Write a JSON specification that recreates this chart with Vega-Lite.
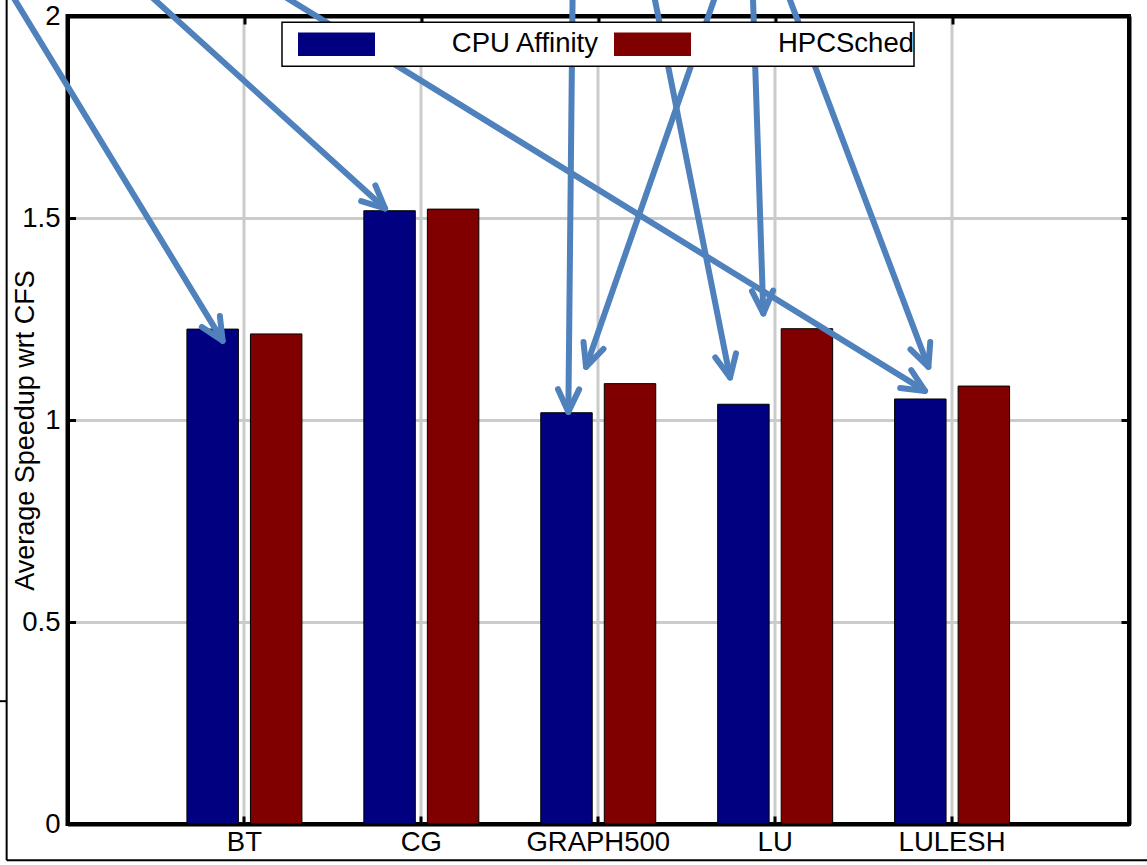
{
  "$schema": "https://vega.github.io/schema/vega-lite/v6.json",
  "width": 1061.5,
  "height": 808,
  "autosize": {"type": "none"},
  "padding": {"left": 67.5, "top": 16, "right": 18, "bottom": 41},
  "background": "white",
  "config": {
    "font": "Liberation Sans",
    "view": {"stroke": "black", "strokeWidth": 4},
    "axis": {
      "domainColor": "black",
      "domainWidth": 4,
      "tickColor": "black",
      "tickWidth": 3,
      "tickSize": -8,
      "labelColor": "black",
      "labelFontSize": 27.5,
      "labelFont": "Liberation Sans",
      "gridColor": "#cbcbcb",
      "gridWidth": 3,
      "gridOpacity": 1,
      "titleColor": "black",
      "titleFontWeight": "normal",
      "titleFont": "Liberation Sans"
    },
    "legend": {
      "orient": "none",
      "legendX": 214.5,
      "legendY": 6.3,
      "direction": "horizontal",
      "symbolType": "M-1,-0.304H1V0.304H-1Z",
      "symbolSize": 5929,
      "symbolStrokeWidth": 0,
      "symbolOpacity": 1,
      "clipHeight": 43.4,
      "labelFontSize": 27.5,
      "labelFont": "Liberation Sans",
      "labelColor": "black",
      "labelAlign": "right",
      "labelOffset": 223,
      "labelLimit": 400,
      "columnPadding": 0,
      "padding": 0,
      "symbolOffset": 16,
      "strokeColor": "black",
      "strokeWidth": 1.5,
      "fillColor": "white"
    }
  },
  "resolve": {"scale": {"x": "independent"}, "axis": {"y": "independent"}},
  "layer": [
    {
      "data": {
        "values": [
          {"benchmark": "BT", "scheduler": "CPU Affinity", "speedup": 1.225},
          {"benchmark": "BT", "scheduler": "HPCSched", "speedup": 1.213},
          {"benchmark": "CG", "scheduler": "CPU Affinity", "speedup": 1.518},
          {"benchmark": "CG", "scheduler": "HPCSched", "speedup": 1.522},
          {"benchmark": "GRAPH500", "scheduler": "CPU Affinity", "speedup": 1.018},
          {"benchmark": "GRAPH500", "scheduler": "HPCSched", "speedup": 1.09},
          {"benchmark": "LU", "scheduler": "CPU Affinity", "speedup": 1.039},
          {"benchmark": "LU", "scheduler": "HPCSched", "speedup": 1.226},
          {"benchmark": "LULESH", "scheduler": "CPU Affinity", "speedup": 1.052},
          {"benchmark": "LULESH", "scheduler": "HPCSched", "speedup": 1.084}
        ]
      },
      "mark": {"type": "bar", "stroke": "black", "strokeWidth": 1},
      "encoding": {
        "x": {
          "field": "benchmark",
          "type": "nominal",
          "sort": null,
          "scale": {"paddingInner": 0.35, "paddingOuter": 0.675},
          "axis": {
            "orient": "bottom",
            "title": null,
            "labelAngle": 0,
            "labelPadding": 12,
            "grid": true,
            "bandPosition": 0.5
          }
        },
        "xOffset": {
          "field": "scheduler",
          "type": "nominal",
          "sort": null,
          "scale": {"paddingInner": 0.19, "paddingOuter": 0}
        },
        "y": {
          "field": "speedup",
          "type": "quantitative",
          "scale": {"domain": [0, 2], "nice": false, "zero": false},
          "axis": {
            "orient": "left",
            "values": [0, 0.5, 1, 1.5, 2],
            "format": "~g",
            "labelPadding": 15.5,
            "grid": true,
            "title": "Average Speedup wrt CFS",
            "titleFontSize": 27,
            "titleX": -34,
            "titleY": 414,
            "titleAngle": -90,
            "titleAlign": "center",
            "titleBaseline": "alphabetic"
          }
        },
        "color": {
          "field": "scheduler",
          "type": "nominal",
          "sort": null,
          "scale": {"domain": ["CPU Affinity", "HPCSched"], "range": ["#000080", "#800000"]},
          "legend": {"title": null}
        }
      }
    },
    {
      "layer": [
        {
          "data": {
            "values": [
              {"from_x": -0.314, "from_y": 2.052, "to_x": 0.877, "to_y": 1.196, "heading": 58.6},
              {"from_x": 0.4635, "from_y": 2.052, "to_x": 1.795, "to_y": 1.5235, "heading": 42.2},
              {"from_x": 1.2126, "from_y": 2.052, "to_x": 4.847, "to_y": 1.072, "heading": 31.6},
              {"from_x": 2.855, "from_y": 2.052, "to_x": 2.831, "to_y": 1.02, "heading": 90.6},
              {"from_x": 3.664, "from_y": 2.052, "to_x": 2.931, "to_y": 1.1314, "heading": 109.2},
              {"from_x": 3.315, "from_y": 2.052, "to_x": 3.745, "to_y": 1.105, "heading": 78.8},
              {"from_x": 3.874, "from_y": 2.052, "to_x": 3.933, "to_y": 1.2636, "heading": 88.1},
              {"from_x": 4.073, "from_y": 2.052, "to_x": 4.866, "to_y": 1.1314, "heading": 69.3}
            ]
          },
          "layer": [
            {
              "mark": {"type": "rule", "color": "#4f81bd", "strokeWidth": 6, "strokeCap": "round"},
              "encoding": {
                "x": {
                  "field": "from_x", "type": "quantitative",
                  "scale": {"domain": [0, 6], "nice": false, "zero": false},
                  "axis": {"orient": "top", "title": null, "values": [1, 2, 3, 4, 5], "labels": false, "grid": false, "ticks": true}
                },
                "x2": {"field": "to_x"},
                "y": {
                  "field": "from_y", "type": "quantitative",
                  "scale": {"domain": [0, 2], "nice": false, "zero": false},
                  "axis": {"orient": "right", "title": null, "values": [0, 0.5, 1, 1.5, 2], "labels": false, "grid": false, "ticks": true}
                },
                "y2": {"field": "to_y"}
              }
            },
            {
              "mark": {
                "type": "point",
                "shape": "M-0.906,-0.423L0,0L-0.906,0.423",
                "filled": false,
                "size": 2500,
                "strokeWidth": 6,
                "strokeCap": "round",
                "strokeJoin": "round",
                "color": "#4f81bd",
                "opacity": 1
              },
              "encoding": {
                "x": {
                  "field": "to_x", "type": "quantitative",
                  "scale": {"domain": [0, 6], "nice": false, "zero": false},
                  "axis": {"orient": "top", "title": null, "values": [1, 2, 3, 4, 5], "labels": false, "grid": false, "ticks": true}
                },
                "y": {
                  "field": "to_y", "type": "quantitative",
                  "scale": {"domain": [0, 2], "nice": false, "zero": false},
                  "axis": {"orient": "right", "title": null, "values": [0, 0.5, 1, 1.5, 2], "labels": false, "grid": false, "ticks": true}
                },
                "angle": {"field": "heading", "type": "quantitative", "scale": null}
              }
            }
          ]
        },
        {
          "data": {
            "values": [
              {"from_x": -0.344, "from_y": 2.08, "to_x": -0.344, "to_y": -0.0896},
              {"from_x": -0.344, "from_y": -0.0896, "to_x": 6.2, "to_y": -0.0896},
              {"from_x": -0.3816, "from_y": 0.304, "to_x": -0.344, "to_y": 0.304}
            ]
          },
          "mark": {"type": "rule", "color": "black", "strokeWidth": 2},
          "encoding": {
            "x": {
              "field": "from_x", "type": "quantitative",
              "scale": {"domain": [0, 6], "nice": false, "zero": false},
              "axis": {"orient": "top", "title": null, "values": [1, 2, 3, 4, 5], "labels": false, "grid": false, "ticks": true}
            },
            "x2": {"field": "to_x"},
            "y": {
              "field": "from_y", "type": "quantitative",
              "scale": {"domain": [0, 2], "nice": false, "zero": false},
              "axis": {"orient": "right", "title": null, "values": [0, 0.5, 1, 1.5, 2], "labels": false, "grid": false, "ticks": true}
            },
            "y2": {"field": "to_y"}
          }
        }
      ]
    }
  ]
}
